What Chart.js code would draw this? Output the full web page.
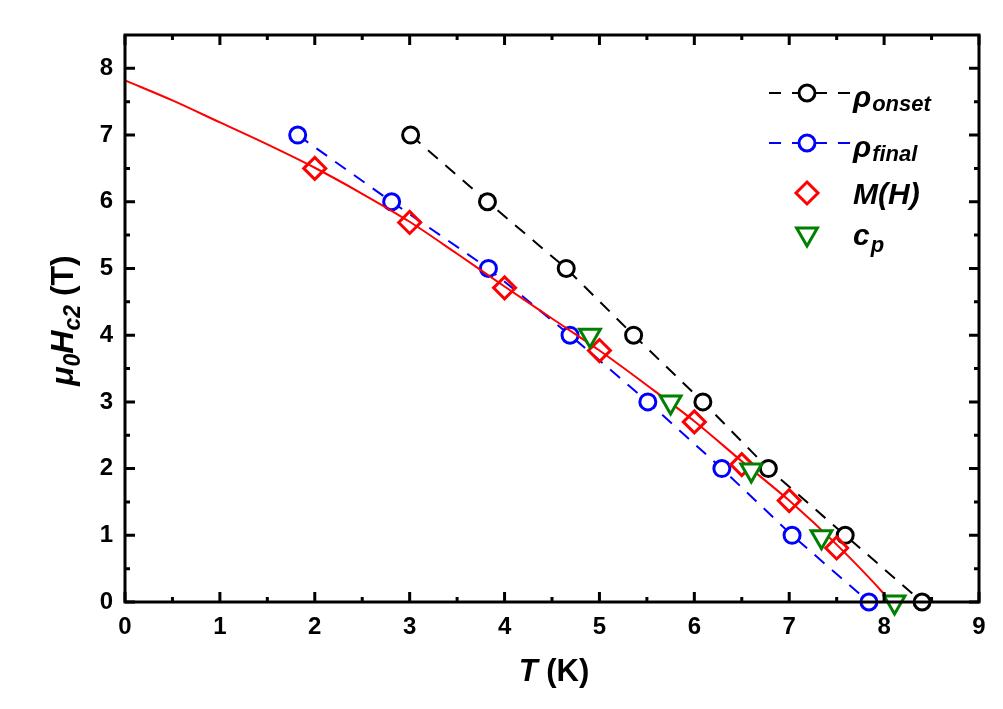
<!DOCTYPE html>
<html>
<head>
<meta charset="utf-8">
<script src="https://cdn.jsdelivr.net/npm/chart.js@4.4.1/dist/chart.umd.min.js"></script>
<style>
  html, body { margin: 0; padding: 0; background: #fff; }
  #wrap { width: 1003px; height: 709px; }
</style>
</head>
<body>
<div id="wrap"><canvas id="c" width="1003" height="709"></canvas></div>
<script>
// ---- data ----
const onsetT = [3.01, 3.82, 4.65, 5.36, 6.09, 6.78, 7.59, 8.40];
const onsetH = [7, 6, 5, 4, 3, 2, 1, 0];
const finalT = [1.82, 2.81, 3.83, 4.69, 5.51, 6.29, 7.03, 7.84];
const finalH = [7, 6, 5, 4, 3, 2, 1, 0];
const mhT = [2.0, 3.0, 4.0, 5.0, 6.0, 6.5, 7.0, 7.5];
const mhH = [6.50, 5.69, 4.71, 3.77, 2.70, 2.06, 1.52, 0.81];
const cpT = [4.90, 5.75, 6.60, 7.34, 8.11];
const cpH = [4.0, 3.0, 1.98, 0.98, 0.0];
const fitT = [0, 0.5, 1, 1.5, 2, 2.5, 3, 3.5, 4, 4.5, 5, 5.5, 6, 6.5, 7, 7.5, 8, 8.07];
const fitH = [7.82, 7.52, 7.19, 6.86, 6.51, 6.12, 5.70, 5.22, 4.73, 4.25, 3.77, 3.25, 2.71, 2.11, 1.52, 0.86, 0.12, 0];
const xTicks = [0, 1, 2, 3, 4, 5, 6, 7, 8, 9];
const xMinor = [0.5, 1.5, 2.5, 3.5, 4.5, 5.5, 6.5, 7.5, 8.5];
const yTicks = [0, 1, 2, 3, 4, 5, 6, 7, 8];
const yMinor = [0.5, 1.5, 2.5, 3.5, 4.5, 5.5, 6.5, 7.5];

const FONT = "Arial, 'Liberation Sans', sans-serif";
const pts = (xs, ys) => xs.map((x, i) => ({ x: x, y: ys[i] }));
const DASH = [13, 10];

const decor = {
  id: 'decor',
  afterDraw(chart) {
    const ctx = chart.ctx;
    const a = chart.chartArea;
    const xs = chart.scales.x, ys = chart.scales.y;
    ctx.save();
    // frame
    ctx.strokeStyle = '#000';
    ctx.lineWidth = 3;
    ctx.strokeRect(a.left, a.top, a.right - a.left, a.bottom - a.top);
    // ticks inward on four sides
    const tickX = (v, len) => {
      const p = xs.getPixelForValue(v);
      ctx.beginPath();
      ctx.moveTo(p, a.bottom); ctx.lineTo(p, a.bottom - len);
      ctx.moveTo(p, a.top); ctx.lineTo(p, a.top + len);
      ctx.stroke();
    };
    const tickY = (v, len) => {
      const p = ys.getPixelForValue(v);
      ctx.beginPath();
      ctx.moveTo(a.left, p); ctx.lineTo(a.left + len, p);
      ctx.moveTo(a.right, p); ctx.lineTo(a.right - len, p);
      ctx.stroke();
    };
    xTicks.forEach(v => tickX(v, 10));
    xMinor.forEach(v => tickX(v, 5));
    yTicks.forEach(v => tickY(v, 10));
    yMinor.forEach(v => tickY(v, 5));

    ctx.fillStyle = '#000';
    ctx.textAlign = 'left';
    ctx.textBaseline = 'alphabetic';
    // x title
    const f1 = 'italic bold 31px ' + FONT, f2 = 'bold 31px ' + FONT;
    ctx.font = f1; const wT = ctx.measureText('T').width;
    ctx.font = f2; const wK = ctx.measureText(' (K)').width;
    const cx = (a.left + a.right) / 2 + 2;
    let x0 = cx - (wT + wK) / 2;
    ctx.font = f1; ctx.fillText('T', x0, 681);
    ctx.font = f2; ctx.fillText(' (K)', x0 + wT, 681);

    // y title (rotated)
    const segs = [
      { t: '\u03bc', f: 'italic bold 32px ' + FONT, dy: 0 },
      { t: '0', f: 'italic bold 23px ' + FONT, dy: 7 },
      { t: 'H', f: 'italic bold 32px ' + FONT, dy: 0 },
      { t: 'c2', f: 'italic bold 23px ' + FONT, dy: 7 },
      { t: ' (T)', f: 'bold 32px ' + FONT, dy: 0 }
    ];
    let tot = 0;
    segs.forEach(s => { ctx.font = s.f; s.w = ctx.measureText(s.t).width; tot += s.w; });
    ctx.save();
    ctx.translate(73, (a.top + a.bottom) / 2 + 2);
    ctx.rotate(-Math.PI / 2);
    let px = -tot / 2;
    segs.forEach(s => { ctx.font = s.f; ctx.fillText(s.t, px, s.dy); px += s.w; });
    ctx.restore();

    // legend
    const mx = 807, tx = 853;
    const circ = (y, col) => {
      ctx.save();
      ctx.strokeStyle = col; ctx.lineWidth = 2; ctx.setLineDash([12, 11]);
      ctx.beginPath(); ctx.moveTo(769, y); ctx.lineTo(850, y); ctx.stroke();
      ctx.setLineDash([]);
      ctx.lineWidth = 3; ctx.fillStyle = '#fff';
      ctx.beginPath(); ctx.arc(mx, y, 8, 0, Math.PI * 2); ctx.fill(); ctx.stroke();
      ctx.restore();
    };
    circ(93, '#000');
    circ(143, '#0000ff');
    // diamond
    ctx.save();
    ctx.strokeStyle = '#ff0000'; ctx.lineWidth = 3; ctx.fillStyle = '#fff';
    ctx.beginPath();
    ctx.moveTo(mx, 193 - 11); ctx.lineTo(mx + 11, 193); ctx.lineTo(mx, 193 + 11); ctx.lineTo(mx - 11, 193);
    ctx.closePath(); ctx.fill(); ctx.stroke();
    // triangle (inverted)
    ctx.strokeStyle = '#008000';
    const r = 12, ty = 234;
    ctx.beginPath();
    ctx.moveTo(mx, ty + r);
    ctx.lineTo(mx + r * Math.sqrt(3) / 2, ty - r / 2);
    ctx.lineTo(mx - r * Math.sqrt(3) / 2, ty - r / 2);
    ctx.closePath(); ctx.fill(); ctx.stroke();
    ctx.restore();

    ctx.fillStyle = '#000';
    const big = 'italic bold 30px ' + FONT, small = 'italic bold 22px ' + FONT;
    const sub = (main, s, y, dy) => {
      ctx.font = big; ctx.fillText(main, tx, y);
      const w = ctx.measureText(main).width;
      ctx.font = small; ctx.fillText(s, tx + w + 1, y + dy);
    };
    sub('\u03c1', 'onset', 107, 4);
    sub('\u03c1', 'final', 157, 4);
    ctx.font = big; ctx.fillText('M(H)', tx, 204);
    sub('c', 'p', 245, 7);
    ctx.restore();
  }
};

new Chart(document.getElementById('c'), {
  type: 'scatter',
  data: {
    datasets: [
      {
        label: 'onset', data: pts(onsetT, onsetH), showLine: true, order: 6,
        borderColor: '#000', borderWidth: 2, borderDash: DASH,
        pointStyle: 'circle', pointRadius: 8, pointBorderWidth: 3,
        pointBorderColor: '#000', pointBackgroundColor: '#fff'
      },
      {
        label: 'final', data: pts(finalT, finalH), showLine: true, order: 5,
        borderColor: '#0000ff', borderWidth: 2, borderDash: DASH,
        pointStyle: 'circle', pointRadius: 8, pointBorderWidth: 3,
        pointBorderColor: '#0000ff', pointBackgroundColor: '#fff'
      },
      {
        label: 'fit', data: pts(fitT, fitH), showLine: true, order: 4,
        borderColor: '#ff0000', borderWidth: 2, pointRadius: 0,
        cubicInterpolationMode: 'monotone'
      },
      {
        label: 'M(H)', data: pts(mhT, mhH), showLine: false, order: 3,
        pointStyle: 'rectRot', pointRadius: 11, pointBorderWidth: 3,
        pointBorderColor: '#ff0000', pointBackgroundColor: 'rgba(255,255,255,0)'
      },
      {
        label: 'cp', data: pts(cpT, cpH), showLine: false, order: 2,
        pointStyle: 'triangle', pointRotation: 180, pointRadius: 12, pointBorderWidth: 3,
        pointBorderColor: '#008000', pointBackgroundColor: '#fff'
      }
    ]
  },
  options: {
    responsive: false,
    animation: false,
    devicePixelRatio: 1,
    clip: false,
    layout: { padding: { left: 0, right: 24, top: 35, bottom: 0 } },
    plugins: { legend: { display: false }, tooltip: { enabled: false } },
    scales: {
      x: {
        type: 'linear', min: 0, max: 9,
        afterBuildTicks: s => { s.ticks = xTicks.map(v => ({ value: v })); },
        afterFit: s => { s.height = 107; },
        grid: { display: false, drawTicks: false },
        border: { display: false },
        ticks: { color: '#000', font: { family: FONT, size: 24, weight: 'bold' }, padding: 11, maxRotation: 0 }
      },
      y: {
        type: 'linear', min: 0, max: 8.5,
        afterBuildTicks: s => { s.ticks = yTicks.map(v => ({ value: v })); },
        afterFit: s => { s.width = 125; },
        grid: { display: false, drawTicks: false },
        border: { display: false },
        ticks: { color: '#000', font: { family: FONT, size: 24, weight: 'bold' }, padding: 12 }
      }
    }
  },
  plugins: [decor]
});
</script>
</body>
</html>
